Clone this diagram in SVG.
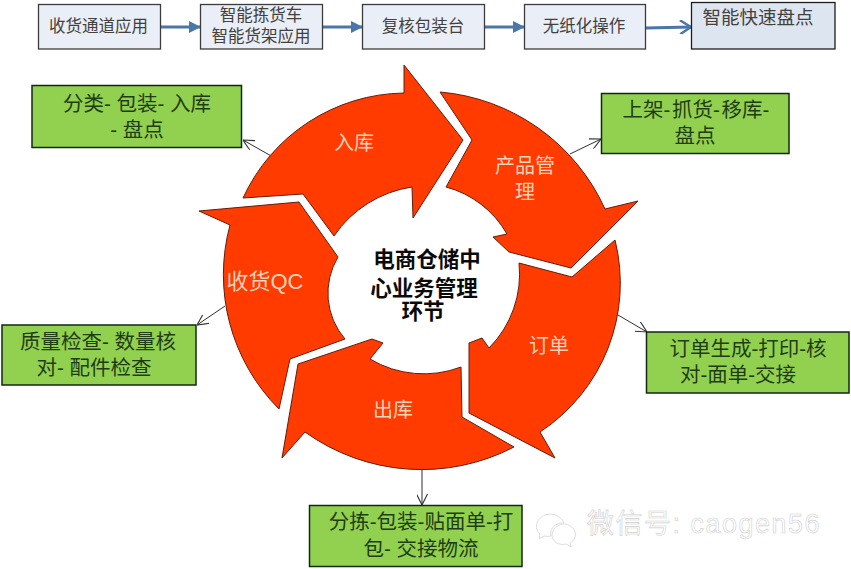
<svg xmlns="http://www.w3.org/2000/svg" width="851" height="569" viewBox="0 0 851 569">
<style>
text{font-family:"Liberation Sans","Noto Sans CJK SC",sans-serif;text-anchor:middle}
.top rect{fill:#e9eef7;stroke:#3c3c3c;stroke-width:1.3}
.top text{font-size:16.500px;fill:#44403c}
.grn rect{fill:#92d050;stroke:#0f2a10;stroke-width:1.5}
.grn text{font-size:20.500px;fill:#1f3d14}
.seg path{fill:#ff3b00;stroke:#6b1a08;stroke-width:1;stroke-linejoin:miter}
.seg text{font-size:20px;fill:#fbd3ba}
.con{fill:none;stroke:#2f2f2f;stroke-width:1}
.flow{fill:none;stroke:#4a76a8;stroke-width:3}
.ctr{font-size:21.500px;font-weight:700;fill:#0a0a0a}
.wm{fill:#fff;stroke:#cfcfcf;stroke-width:.7}
</style>
<defs>
<marker id="open" viewBox="0 0 10 10" refX="10" refY="5" markerWidth="11" markerHeight="11" markerUnits="userSpaceOnUse" orient="auto"><path d="M0 0L10 5L0 10" fill="none" stroke="#2f2f2f" stroke-width="1"/></marker>
<marker id="tri" viewBox="0 0 12 12" refX="11" refY="6" markerWidth="12" markerHeight="12" markerUnits="userSpaceOnUse" orient="auto"><path d="M0 0L12 6L0 12z" fill="#4a76a8"/></marker>
<marker id="openb" viewBox="0 0 14 14" refX="13" refY="7" markerWidth="14" markerHeight="14" markerUnits="userSpaceOnUse" orient="auto"><path d="M2 0L13 7L2 14" fill="none" stroke="#4a76a8" stroke-width="2.500"/></marker>
</defs>
<rect width="851" height="569" fill="#fff"/>
<g id="connectors">
<path class="flow" d="M160 27H200" marker-end="url(#tri)"/>
<path class="flow" d="M322 27H362" marker-end="url(#tri)"/>
<path class="flow" d="M484 27H524" marker-end="url(#tri)"/>
<path class="flow" d="M646 28L691 27" marker-end="url(#openb)"/>
<path class="con" d="M273 157L243 140" marker-end="url(#open)"/>
<path class="con" d="M570 154L601 139" marker-end="url(#open)"/>
<path class="con" d="M618 315L647 332" marker-end="url(#open)"/>
<path class="con" d="M225 306L197 325" marker-end="url(#open)"/>
<path class="con" d="M422 468V505" marker-end="url(#open)"/>
</g>
<g id="t1" class="top"><rect x="38.500" y="4.500" width="122" height="44.500"/><text x="98.500" y="32">收货通道应用</text></g>
<g id="t2" class="top"><rect x="200.500" y="4.500" width="122" height="44.500"/><text x="261" y="21">智能拣货车</text><text x="261" y="42">智能货架应用</text></g>
<g id="t3" class="top"><rect x="362.500" y="4.500" width="122" height="44.500"/><text x="423" y="32">复核包装台</text></g>
<g id="t4" class="top"><rect x="524.500" y="4.500" width="121" height="44.500"/><text x="584" y="32">无纸化操作</text></g>
<g id="t5" class="top"><rect x="691.500" y="2.500" width="143.500" height="46.500" style="fill:#dde5f0;stroke:#1c1c1c"/><text x="758" y="24" style="font-size:18.500px">智能快速盘点</text></g>

<g id="ruku" class="seg"><path d="M404 65L463 140L413 218L412 187A115 115 0 0 0 334 236L303 194L243 198A180 180 0 0 1 404 93Z"/><text x="354" y="150">入库</text></g>
<g id="chanpin" class="seg"><path d="M440 92L472 140L446 187A100 100 0 0 1 507 234L493 237L509 252L571 268L638 201L605 209A200 200 0 0 0 440 92Z"/><text x="525" y="173">产品管</text><text x="525" y="199">理</text></g>
<g id="dingdan" class="seg"><path d="M519 263L572 277L615 240A178 178 0 0 1 540 432L555 458L469 413V343L482 338L489 348A105 105 0 0 0 519 263Z"/><text x="549" y="353">订单</text></g>
<g id="chuku" class="seg"><path d="M461 367L462 417L514 447A200 200 0 0 1 305 432L282 458L298 364L372 339L383 343L370 359A105 105 0 0 0 461 367Z"/><text x="393" y="417">出库</text></g>
<g id="shouhuo" class="seg"><path d="M345 339L290 359L279 409A190 190 0 0 1 230 225L199 211L299 202L338 257A70 70 0 0 0 345 339Z"/><text x="265" y="289" style="font-size:22px">收货QC</text></g>

<g id="center"><text class="ctr" x="427" y="267">电商仓储中</text><text class="ctr" x="424" y="296">心业务管理</text><text class="ctr" x="423" y="319">环节</text></g>

<g id="g1" class="grn"><rect x="32" y="85.500" width="209.500" height="62"/><text x="137" y="111">分类- 包装- 入库</text><text x="137" y="137">- 盘点</text></g>
<g id="g2" class="grn"><rect x="601.500" y="93.500" width="187.500" height="60"/><text x="696" y="117" style="word-spacing:-4px">上架- 抓货- 移库-</text><text x="695" y="143">盘点</text></g>
<g id="g3" class="grn"><rect x="646.500" y="332" width="202.500" height="61"/><text x="748" y="356">订单生成-打印-核</text><text x="738" y="382">对-面单-交接</text></g>
<g id="g4" class="grn"><rect x="2" y="325" width="194" height="60"/><text x="98" y="349">质量检查- 数量核</text><text x="94" y="375">对- 配件检查</text></g>
<g id="g5" class="grn"><rect x="309.500" y="505.500" width="212.500" height="61"/><text x="421" y="529">分拣-包装-贴面单-打</text><text x="421" y="556">包- 交接物流</text></g>

<g id="watermark">
<path class="wm" d="M545 515C553 512 562 517 564 523C556 522 549 529 551 536C548 537 546 536 544 536L539 539L540 534C533 528 537 518 545 515Z"/>
<path class="wm" d="M565 524C572 525 577 531 575 537C574 540 572 542 570 543L571 547L566 544C558 546 552 541 552 535C552 529 558 524 565 524Z"/>
<text x="704" y="533" style="font-size:27px;letter-spacing:1.500px;fill:#fff;stroke:#cfcfcf;stroke-width:.6">微信号: caogen56</text>
</g>
</svg>
